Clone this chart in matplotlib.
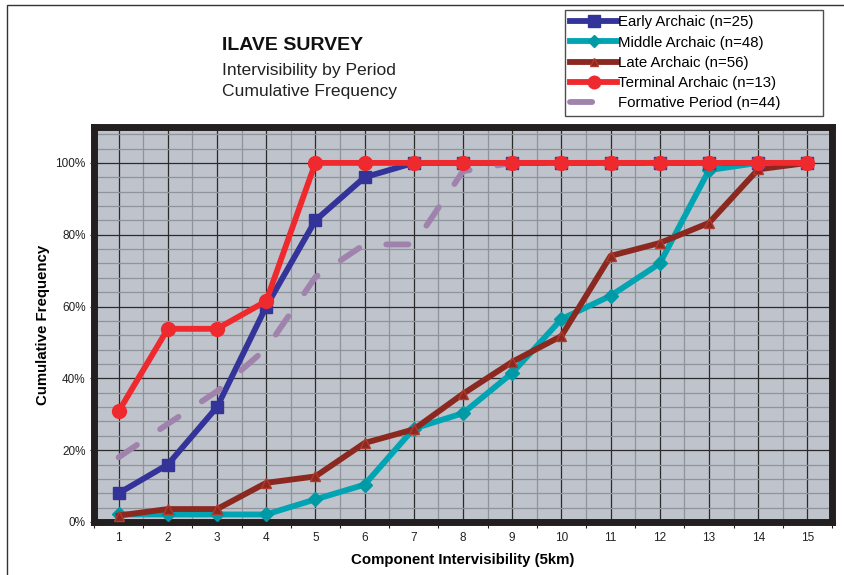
import matplotlib
matplotlib.use("Agg")
import matplotlib.pyplot as plt
from matplotlib.patches import Rectangle
from matplotlib.ticker import MultipleLocator, FixedLocator, FuncFormatter

x = list(range(1, 16))
early = [8, 16, 32, 60, 84, 96, 100, 100, 100, 100, 100, 100, 100, 100, 100]
middle = [2.1, 2.1, 2.1, 2.1, 6.3, 10.4, 26.0, 30.3, 41.5, 56.5, 63.0, 72.0, 98.0, 100, 100]
late = [1.8, 3.6, 3.6, 10.9, 12.7, 22.0, 25.8, 35.7, 44.6, 51.8, 74.1, 77.7, 83.3, 98.2, 100]
terminal = [30.8, 53.8, 53.8, 61.5, 100, 100, 100, 100, 100, 100, 100, 100, 100, 100, 100]
formative = [18.0, 27.3, 36.4, 48.3, 68.2, 77.3, 77.3, 97.7, 100, 100, 100, 100, 100, 100, 100]

labels = ["Early Archaic (n=25)", "Middle Archaic (n=48)", "Late Archaic (n=56)",
          "Terminal Archaic (n=13)", "Formative Period (n=44)"]
yticks = [0, 20, 40, 60, 80, 100]

plt.rcParams['font.family'] = ['Liberation Sans', 'DejaVu Sans']

W, H = 844, 575
fig = plt.figure(figsize=(W / 100, H / 100), dpi=100)
fig.patch.set_facecolor('white')

# outer frame
fig.add_artist(Rectangle((7 / W, -0.1), 1, 1.1 - 5 / H, transform=fig.transFigure,
                         fill=False, edgecolor='#333333', linewidth=1.0))

ax = fig.add_axes([94 / W, 1 - 522 / H, (832 - 94) / W, (522 - 127) / H])
ax.set_facecolor('#BFC3CB')
ax.set_xlim(0.5, 15.5)
ax.set_ylim(0, 110)

ax.xaxis.set_major_locator(FixedLocator(x))
ax.xaxis.set_minor_locator(FixedLocator([v + 0.5 for v in range(0, 16)]))
ax.yaxis.set_major_locator(FixedLocator(yticks))
ax.yaxis.set_minor_locator(MultipleLocator(4))
ax.yaxis.set_major_formatter(FuncFormatter(lambda v, p: f"{int(v)}%"))

ax.grid(which='major', axis='both', color='#2b2b2b', linewidth=0.9, zorder=1)
ax.grid(which='minor', axis='both', color='#8f939a', linewidth=0.9, zorder=0.5)
ax.set_axisbelow(True)

ax.tick_params(axis='x', which='major', length=0, pad=7, labelsize=8.5, colors='#222222')
ax.tick_params(axis='x', which='minor', length=4, width=0.8, direction='out', colors='#222222')
ax.tick_params(axis='y', which='major', length=3, width=0.8, labelsize=8.5, colors='#222222', pad=3)
ax.tick_params(axis='y', which='minor', length=0)

for s in ax.spines.values():
    s.set_linewidth(5)
    s.set_color('#231F20')

lw = 4.2
ax.plot(x, terminal, color='#EE2A2E', lw=lw, marker='o', ms=10, zorder=6, label=labels[3])
ax.plot(x, formative, color='#A083AD', lw=lw, dashes=(3.8, 4.8), dash_capstyle='round',
        zorder=5, label=labels[4])
ax.plot(x, late, color='#8B2820', lw=lw, marker='^', ms=7, mfc='#8B2820',
        mec='#B03A2E', zorder=4, label=labels[2])
ax.plot(x, middle, color='#00A4B2', lw=lw, marker='D', ms=7, mfc='#009AA6',
        mec='#009AA6', zorder=3, label=labels[1])
ax.plot(x, early, color='#333399', lw=lw, marker='s', ms=9, zorder=4.5, label=labels[0])

ax.set_xlabel("Component Intervisibility (5km)", fontsize=10.8, fontweight='bold', labelpad=7)
ax.set_ylabel("Cumulative Frequency", fontsize=10.8, fontweight='bold', labelpad=4)

fig.text(222 / W, 1 - 45 / H, "ILAVE SURVEY", fontsize=14, fontweight='bold',
         va='center', ha='left', color='#111111')
fig.text(222 / W, 1 - 70 / H, "Intervisibility by Period", fontsize=12.6,
         va='center', ha='left', color='#222222')
fig.text(222 / W, 1 - 91 / H, "Cumulative Frequency", fontsize=12.6,
         va='center', ha='left', color='#222222')

h, l = ax.get_legend_handles_labels()
order = [4, 3, 2, 0, 1]
hh = [h[i] for i in order]
ll = [l[i] for i in order]
leg = fig.legend(hh, ll, loc='upper left',
                 bbox_to_anchor=(565 / W, 1 - 117 / H, (823 - 565) / W, (117 - 10) / H),
                 mode='expand',
                 bbox_transform=fig.transFigure, fontsize=10.8, frameon=True,
                 fancybox=False, edgecolor='#222222', handlelength=3.1,
                 handletextpad=0.1, labelspacing=0.42, borderpad=0.35,
                 borderaxespad=0, markerscale=0.9)
leg.get_frame().set_linewidth(1.0)

fig.savefig("out.png", dpi=100, facecolor='white')
